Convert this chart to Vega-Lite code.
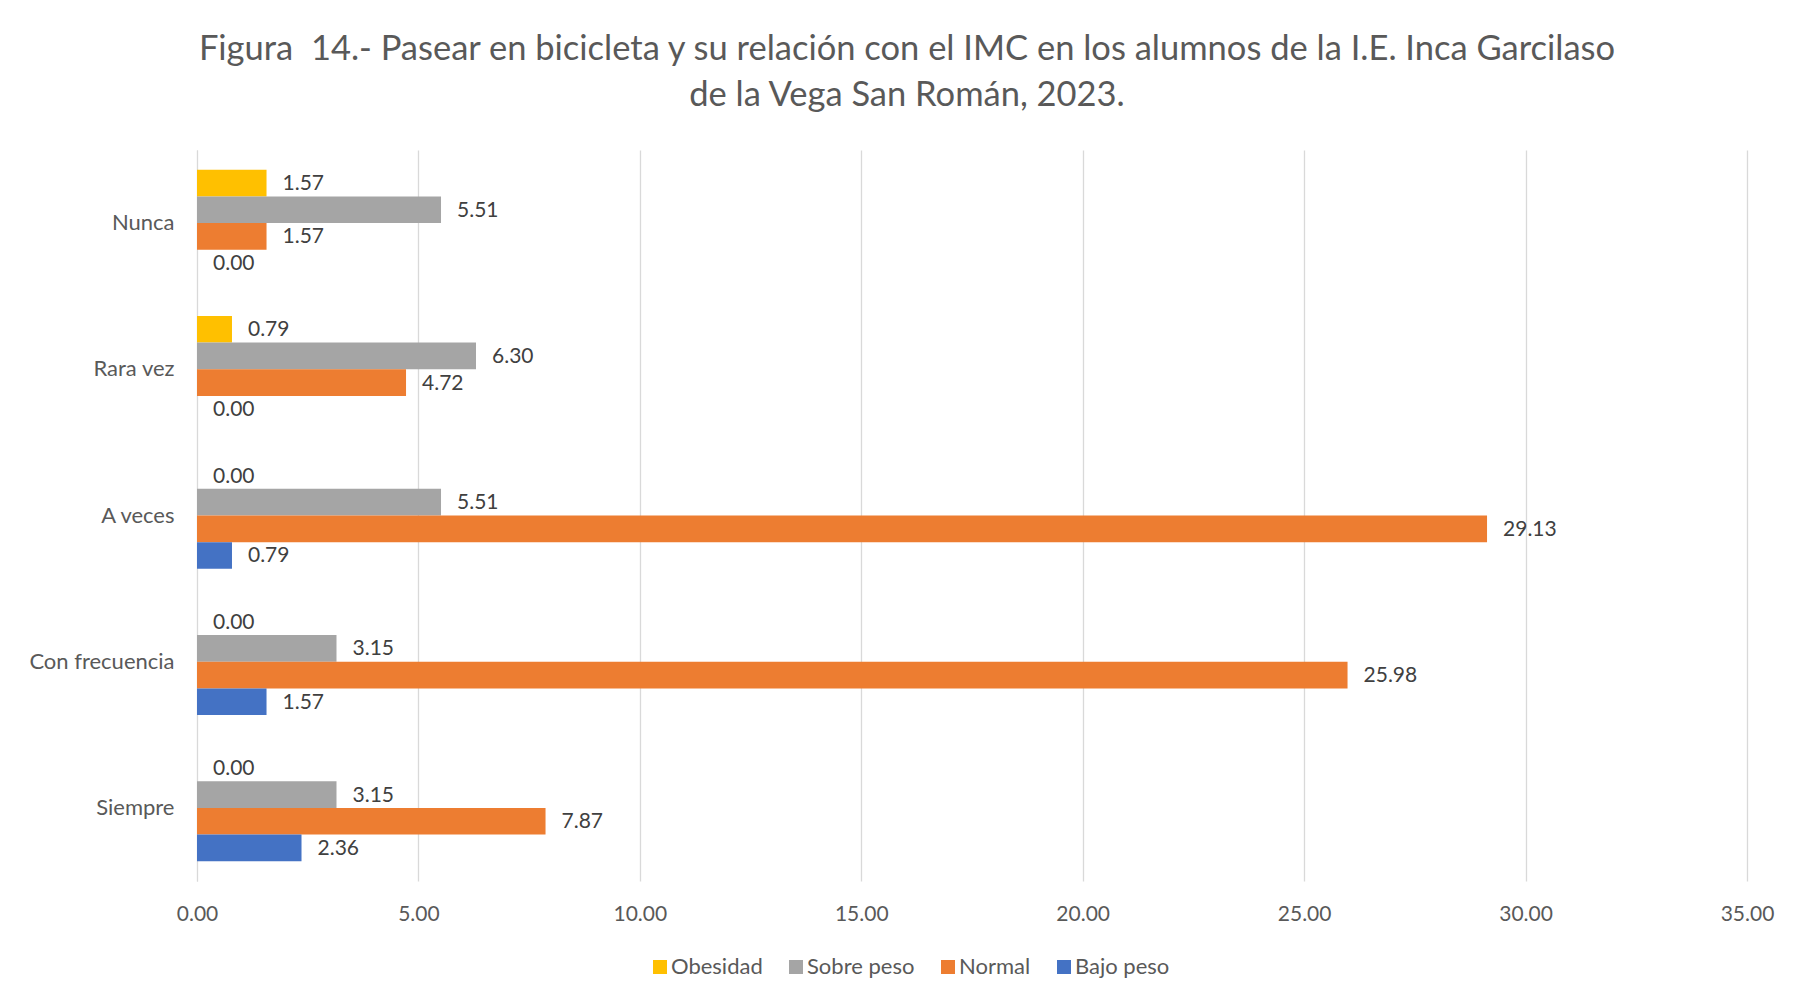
{
  "$schema": "https://vega.github.io/schema/vega-lite/v6.json",
  "width": 1550,
  "height": 731,
  "autosize": {"type": "none"},
  "padding": {"left": 197, "top": 150, "right": 51, "bottom": 119},
  "background": "white",
  "title": {
    "text": ["Figura \u00a014.- Pasear en bicicleta y su relación con el IMC en los alumnos de la I.E. Inca Garcilaso", "de la Vega San Román, 2023."],
    "anchor": "middle",
    "dx": -65,
    "offset": 37,
    "fontSize": 34.5,
    "font": "Lato",
    "fontWeight": "normal",
    "color": "#595959",
    "lineHeight": 46
  },
  "data": {
    "values": [
      {"cat": "Nunca", "serie": "Obesidad", "valor": 1.57},
      {"cat": "Nunca", "serie": "Sobre peso", "valor": 5.51},
      {"cat": "Nunca", "serie": "Normal", "valor": 1.57},
      {"cat": "Nunca", "serie": "Bajo peso", "valor": 0.00},
      {"cat": "Rara vez", "serie": "Obesidad", "valor": 0.79},
      {"cat": "Rara vez", "serie": "Sobre peso", "valor": 6.30},
      {"cat": "Rara vez", "serie": "Normal", "valor": 4.72},
      {"cat": "Rara vez", "serie": "Bajo peso", "valor": 0.00},
      {"cat": "A veces", "serie": "Obesidad", "valor": 0.00},
      {"cat": "A veces", "serie": "Sobre peso", "valor": 5.51},
      {"cat": "A veces", "serie": "Normal", "valor": 29.13},
      {"cat": "A veces", "serie": "Bajo peso", "valor": 0.79},
      {"cat": "Con frecuencia", "serie": "Obesidad", "valor": 0.00},
      {"cat": "Con frecuencia", "serie": "Sobre peso", "valor": 3.15},
      {"cat": "Con frecuencia", "serie": "Normal", "valor": 25.98},
      {"cat": "Con frecuencia", "serie": "Bajo peso", "valor": 1.57},
      {"cat": "Siempre", "serie": "Obesidad", "valor": 0.00},
      {"cat": "Siempre", "serie": "Sobre peso", "valor": 3.15},
      {"cat": "Siempre", "serie": "Normal", "valor": 7.87},
      {"cat": "Siempre", "serie": "Bajo peso", "valor": 2.36}
    ]
  },
  "encoding": {
    "y": {
      "field": "cat",
      "type": "nominal",
      "sort": ["Nunca", "Rara vez", "A veces", "Con frecuencia", "Siempre"],
      "scale": {"paddingInner": 0.271, "paddingOuter": 0.135},
      "axis": {
        "title": null,
        "domain": true,
        "domainColor": "#D9D9D9",
        "ticks": false,
        "labelFont": "Lato",
        "labelFontSize": 22,
        "labelColor": "#595959",
        "labelPadding": 23
      }
    },
    "yOffset": {
      "field": "serie",
      "type": "nominal",
      "sort": ["Obesidad", "Sobre peso", "Normal", "Bajo peso"],
      "scale": {"paddingInner": 0, "paddingOuter": 0}
    },
    "x": {
      "field": "valor",
      "type": "quantitative",
      "scale": {"domain": [0, 35], "nice": false},
      "axis": {
        "title": null,
        "values": [0, 5, 10, 15, 20, 25, 30, 35],
        "format": ".2f",
        "labelFlush": false,
        "domain": false,
        "ticks": false,
        "grid": true,
        "gridColor": "#D9D9D9",
        "gridWidth": 1.3,
        "labelFont": "Lato",
        "labelFontSize": 21,
        "labelColor": "#595959",
        "labelPadding": 22
      }
    }
  },
  "layer": [
    {
      "mark": {"type": "bar", "cornerRadius": 0},
      "encoding": {
        "color": {
          "field": "serie",
          "type": "nominal",
          "sort": ["Obesidad", "Sobre peso", "Normal", "Bajo peso"],
          "scale": {
            "domain": ["Obesidad", "Sobre peso", "Normal", "Bajo peso"],
            "range": ["#FFC000", "#A5A5A5", "#ED7D31", "#4472C4"]
          },
          "legend": {
            "title": null,
            "orient": "none",
            "direction": "horizontal",
            "legendX": 452,
            "legendY": 806,
            "symbolType": "square",
            "symbolSize": 196,
            "symbolStrokeWidth": 0,
            "labelFont": "Lato",
            "labelFontSize": 22,
            "labelColor": "#595959",
            "labelOffset": 0,
            "columnPadding": 22
          }
        }
      }
    },
    {
      "mark": {"type": "text", "align": "left", "baseline": "middle", "dx": 16, "dy": 1, "font": "Lato", "fontSize": 21, "color": "#404040"},
      "encoding": {
        "text": {"field": "valor", "type": "quantitative", "format": ".2f"}
      }
    }
  ],
  "config": {
    "view": {"stroke": null}
  }
}
